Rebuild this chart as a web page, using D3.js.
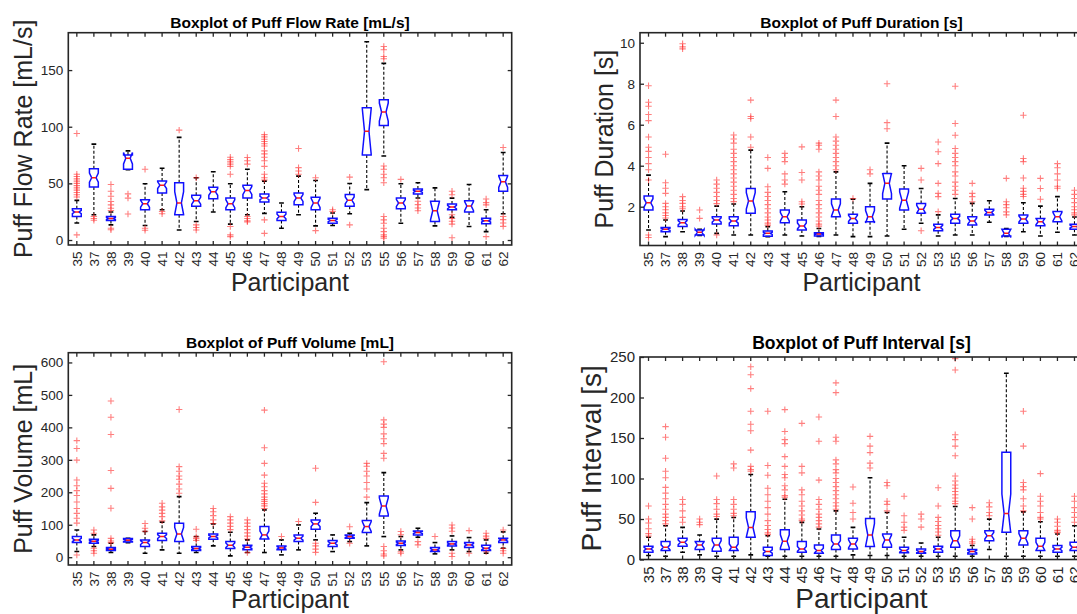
<!DOCTYPE html>
<html>
<head>
<meta charset="utf-8">
<script src="https://cdn.jsdelivr.net/npm/d3@7"></script>
<style>
  body { margin: 0; background: #fff; }
  svg { display: block; font-family: "Liberation Sans", Arial, Helvetica, sans-serif; }
</style>
</head>
<body>
<div id="chart"></div>
<script>
// participants on the x axis (same for all four panels)
const participants = ["35","37","38","39","40","41","42","43","44","45","46","47","48","49","50","51","52","53","55","56","57","58","59","60","61","62"];

// ---- Puff Flow Rate [mL/s]
const flowTicks = [0, 50, 100, 150];
const flowLo  = [15, 22.3, 13.4, 62, 12.8, 26.7, 8.9, 16.3, 24.7, 14, 22.3, 23.5, 10.4, 22.3, 12.5, 12.8, 23.2, 44.5, 74.2, 14.8, 37.1, 12.5, 20, 11.9, 7.4, 23.2];
const flowQ1  = [20.8, 46.9, 17.2, 62.4, 26.7, 41.6, 22.3, 29.7, 36.5, 26.7, 37.1, 33.6, 17.2, 31.2, 26.7, 14.8, 29.7, 75.1, 101, 27.6, 40.7, 16.3, 26.7, 24.7, 14.3, 43.1];
const flowMed = [24.7, 55, 19, 72.2, 32, 48.4, 32.7, 34.7, 42.5, 32, 43.7, 37.1, 20.8, 37.1, 32.7, 17.2, 35, 95.9, 112.9, 32.7, 43, 25.8, 29.1, 30, 16.9, 51.4];
const flowQ3  = [27.6, 63, 20.8, 75.1, 35.6, 52, 50.5, 39.5, 46.6, 37.1, 48.4, 40.7, 24.4, 41.6, 37.7, 19.3, 40.1, 116.7, 123.8, 37.1, 45.1, 34.2, 31.8, 34.7, 19.3, 57];
const flowHi  = [35, 84.6, 24.7, 78.7, 49.6, 63.3, 90.6, 55, 60.3, 49.6, 62.4, 52, 32.7, 56.4, 52.6, 23.8, 49.9, 175, 155.9, 49.6, 50.5, 46, 37, 49, 26.7, 77.2];
const flowNotch = [1.5, 4, 0.8, 5, 3, 3, 10, 3, 3, 3.5, 3.5, 1.5, 2, 3, 4, 1, 3, 20, 8, 3, 1, 8, 1.5, 4, 1, 5];
const flowOut = [
  [94, 58, 56, 54, 52, 50, 48, 46, 44, 42, 40, 38, 4.5],
  [20.8, 19, 17.5],
  [49, 43, 38.6, 34, 31, 28, 26, 10.4, 9],
  [40.7, 37, 23],
  [62.4, 10.4, 8.6],
  [25.2, 23.2],
  [97],
  [55, 13.4, 11, 8.9],
  [],
  [73, 71, 69, 67, 65, 58, 11.9, 4.5, 3],
  [72.8, 70, 67, 20.8, 19, 17, 16],
  [93, 91, 89, 87, 85, 83, 78.7, 76, 73, 70, 65, 58, 55, 53, 17.8, 5.9],
  [],
  [80.8, 63.9, 60.9, 58],
  [55, 8.3],
  [26.7, 25.2],
  [55.5, 13.4],
  [],
  [170.8, 168, 162, 160, 65.3, 62.4, 58, 55, 50.5, 20.8, 17.8, 14.8, 10.4, 7.4, 4.5, 3, 1.5],
  [53.5],
  [34.2, 31.2, 28.2, 25.8],
  [],
  [43, 40, 22.3, 19, 16.5, 14, 2],
  [],
  [36.2, 33, 31, 3],
  [81.7, 20.8, 18, 15, 12]
];

// ---- Puff Duration [s]
const durTicks = [2, 4, 6, 8, 10];
const durLo  = [0.86, 0.54, 0.78, 0.6, 0.7, 0.62, 0.62, 0.54, 0.62, 0.57, 0.55, 0.62, 0.54, 0.54, 0.57, 0.9, 1.19, 0.57, 0.62, 0.62, 1.24, 0.55, 0.78, 0.57, 0.75, 0.62];
const durQ1  = [1.84, 0.78, 1.03, 0.62, 1.16, 1.07, 1.68, 0.56, 1.22, 0.86, 0.57, 1.51, 1.19, 1.27, 2.37, 1.84, 1.68, 0.83, 1.19, 1.11, 1.59, 0.57, 1.19, 1.07, 1.27, 0.9];
const durMed = [2.19, 0.9, 1.22, 0.75, 1.35, 1.3, 2.28, 0.7, 1.51, 1.06, 0.67, 1.84, 1.43, 1.51, 3.14, 2.32, 1.87, 0.99, 1.43, 1.3, 1.72, 0.7, 1.4, 1.27, 1.51, 1.03];
const durQ3  = [2.52, 0.98, 1.38, 0.86, 1.51, 1.51, 2.89, 0.82, 1.84, 1.35, 0.73, 2.37, 1.63, 2.0, 3.62, 2.86, 2.16, 1.14, 1.63, 1.51, 1.87, 0.9, 1.59, 1.43, 1.76, 1.14];
const durHi  = [3.54, 1.35, 1.79, 0.9, 2.03, 2.13, 4.76, 1.03, 2.73, 2.0, 0.94, 3.7, 2.37, 3.14, 5.1, 4.0, 2.89, 1.6, 2.4, 2.16, 2.29, 0.94, 2.19, 2.03, 2.49, 1.5];
const durNotch = [0.2, 0.05, 0.1, 0.15, 0.1, 0.1, 0.4, 0.05, 0.2, 0.15, 0.03, 0.3, 0.15, 0.3, 0.5, 0.4, 0.2, 0.1, 0.1, 0.15, 0.1, 0.2, 0.15, 0.15, 0.2, 0.07];
const durOut = [
  [7.9, 7.1, 6.9, 6.5, 6.2, 5.4, 4.9, 4.7, 4.4, 4.1, 3.8, 3.3, 0.62, 0.5],
  [4.56, 3.17, 2.9, 2.65, 2.16, 2.0, 1.85, 1.7, 1.57, 1.45],
  [9.95, 9.8, 9.7, 2.49, 2.3, 2.16, 2.0, 1.9],
  [1.84, 1.43],
  [3.3, 3.1, 2.9, 2.7, 2.5, 2.3, 2.15, 0.62],
  [5.5, 5.3, 5.1, 4.8, 4.6, 4.4, 4.2, 4.0, 3.8, 3.6, 3.4, 3.2, 3.0, 2.8, 2.6, 2.4, 2.25],
  [7.2, 6.4, 6.3, 5.4, 4.9],
  [4.4, 3.87, 2.97, 2.7, 2.5, 2.3, 2.1, 1.9, 1.7, 1.5, 1.35, 1.2, 1.1],
  [4.6, 4.4, 4.2, 3.6, 3.3, 3.1],
  [4.92, 3.67, 3.3, 2.24, 2.13],
  [5.1, 5.0, 4.8, 3.7, 3.5, 3.3, 3.0, 2.8, 2.6, 2.3, 2.1, 1.9, 1.7, 1.5, 1.3, 1.15, 1.05],
  [7.2, 6.4, 5.4, 5.2, 5.0, 4.8, 4.6, 4.4, 4.2, 4.0, 3.8],
  [2.4],
  [3.8, 3.6],
  [8.0, 6.1, 5.8],
  [],
  [3.87, 3.3, 0.83],
  [5.16, 4.68, 4.1, 3.14, 2.65, 2.49, 1.76],
  [7.88, 6.06, 5.49, 4.84, 4.6, 4.4, 4.2, 4.0, 3.7, 3.5, 3.2, 3.0, 2.8, 2.6],
  [3.14, 2.65, 2.49, 2.24],
  [],
  [3.38, 2.24, 2.1, 1.95, 1.75, 1.6],
  [6.46, 4.35, 4.2, 3.4, 2.9, 2.75, 2.6, 2.5],
  [3.38, 2.89, 2.36],
  [4.1, 3.9, 3.6, 3.3, 3.0, 2.9],
  [2.8, 2.6, 2.4, 2.2, 2.0, 1.85, 1.7, 1.6]
];

// ---- Puff Volume [mL]
const volTicks = [0, 100, 200, 300, 400, 500, 600];
const volLo  = [17.4, 32.8, 14.4, 45, 12.3, 22.6, 12.3, 14.4, 34.9, 4.1, 14.4, 14.4, 7.2, 22.6, 53.3, 17.4, 48.2, 34.9, 63.6, 22.6, 61.5, 10.3, 22.6, 17.4, 12.3, 27.7];
const volQ1  = [45.1, 43, 20.5, 47.2, 32.8, 51.3, 48.2, 20.5, 55.4, 26.7, 22.6, 56.4, 22.6, 48.2, 86.2, 32.8, 58.5, 75.9, 127.2, 35.9, 68.7, 17.4, 34.9, 29.7, 20.5, 45.1];
const volMed = [53.3, 49.2, 24.6, 52.3, 45.1, 63.6, 71.8, 26.7, 63.6, 36.9, 30.8, 68.7, 28.7, 58.5, 102.6, 43, 63.6, 94.4, 157.9, 43, 75.9, 22.6, 41, 37.9, 27.7, 53.3];
const volQ3  = [63.6, 55.4, 29.7, 57.4, 53.3, 73.8, 104.6, 32.8, 71.8, 48.2, 36.9, 94.4, 34.9, 68.7, 114.9, 51.3, 68.7, 112.8, 188.7, 50.3, 81, 29.7, 48.2, 45.1, 36.9, 58.5];
const volHi  = [84, 68.7, 43, 58, 79, 108, 186.7, 63.6, 102.6, 77, 53.3, 145.6, 53.3, 99.5, 135.4, 68.7, 73.8, 168.2, 260.5, 63.6, 89.2, 45.1, 65.6, 60.5, 53.3, 78];
const volNotch = [5, 3, 2, 3, 6, 6, 20, 3, 4, 7, 4, 12, 4, 6, 8, 5, 3, 15, 25, 4, 3, 4, 3, 4, 5, 4];
const volOut = [
  [359, 335, 299, 238, 220, 205, 190, 170, 150, 135, 120, 105, 7],
  [84, 74, 27.7, 20, 12],
  [481, 431, 378, 267, 212, 151, 58, 50, 45],
  [],
  [104, 89, 80],
  [166, 155, 145, 135, 125, 112],
  [455, 279, 265, 250, 240, 225, 210, 197],
  [86, 63, 58, 52],
  [150, 140, 128, 115, 104],
  [125, 115, 105, 95, 85],
  [115, 105, 95, 85, 75, 65, 56, 14],
  [453, 337, 289, 253, 228, 217, 205, 195, 185, 178, 172, 165, 158, 150],
  [63.6],
  [110],
  [274, 169, 43, 35, 25, 15],
  [],
  [94, 43],
  [289, 280, 265, 250, 230, 210, 185],
  [602, 423, 410, 400, 380, 365, 350, 320, 305, 32.8, 20, 10, 4],
  [79, 69, 17, 12],
  [48, 38],
  [63.6],
  [99, 90, 80, 12, 2],
  [82, 12],
  [74, 65, 58, 17],
  [84, 27, 20, 12]
];

// ---- Puff Interval [s]
const intTicks = [0, 50, 100, 150, 200, 250];
const intLo  = [4.9, 4.1, 9.0, 5.7, 4.1, 4.1, 5.7, 4.1, 4.1, 4.1, 4.1, 4.1, 5.7, 4.9, 4.9, 4.1, 4.1, 4.1, 4.1, 4.1, 12.3, 4.1, 4.1, 4.1, 4.1, 4.1];
const intQ1  = [9.0, 11.0, 16.3, 12.3, 10.2, 11.0, 27.4, 4.9, 12.3, 9.0, 7.8, 12.3, 13.1, 15.9, 15.1, 8.2, 7.8, 9.0, 15.1, 6.9, 23.3, 33.5, 18, 11.0, 9.0, 11.0];
const intMed = [13.1, 15.1, 21.2, 18, 18, 15.1, 39.6, 9.8, 22.5, 13.1, 11.0, 19.2, 19.2, 30.2, 24.1, 11.0, 9.8, 13.1, 23.3, 9.8, 29.4, 56.8, 26.1, 16.3, 13.1, 15.1];
const intQ3  = [16.3, 22.1, 26.1, 22.1, 26.1, 27.4, 58.8, 15.1, 36.8, 22.1, 18, 30.2, 26.1, 50.6, 31.5, 15.1, 13.1, 16.3, 35.5, 12.3, 35.5, 132.4, 35.5, 26.1, 17.2, 21.2];
const intHi  = [27.4, 41.7, 39.6, 30.2, 49.8, 51.9, 105, 29.4, 74.4, 45.8, 37.6, 60, 39.6, 101, 58, 27.4, 20.4, 27.4, 65.4, 17.2, 49.8, 230, 58.8, 46.6, 31.5, 41.7];
const intNotch = [2, 3, 3, 4, 5, 4, 12, 2, 8, 3, 3, 4, 5, 14, 6, 2, 1.5, 2, 6, 1.5, 4, 24, 6, 5, 2, 3];
const intOut = [
  [66, 50, 45, 38, 32, 29],
  [164, 151, 125, 109, 101, 89, 82, 75, 68, 62, 56, 52, 48, 44],
  [74, 68, 60, 52, 46],
  [50, 46, 43],
  [103, 74, 69, 62, 56, 53],
  [118, 113, 74, 68, 62, 57, 54],
  [238, 228, 211, 183, 167, 159, 135, 115, 111, 109],
  [183, 116, 104, 88, 80, 72, 64, 56, 48, 42, 37, 33, 31],
  [185, 158, 148, 143, 127, 115, 105, 101, 91, 86, 79, 77],
  [168, 115, 107, 86, 80, 72, 66, 60, 55, 50, 48],
  [176, 146, 98, 74, 68, 62, 56, 52, 48, 44, 40],
  [218, 206, 151, 146, 123, 118, 111, 107, 100, 95, 90, 85, 80, 75, 70, 66, 62],
  [89.5, 69.5, 58, 50],
  [152, 140, 132, 119, 113],
  [95, 91, 72, 68, 60],
  [78, 54, 46, 40, 36],
  [56, 50, 40],
  [88.6, 66, 52, 47, 42, 38, 34, 30],
  [248, 234, 154, 148, 140, 128, 103, 97, 92, 88, 84, 80, 76, 72, 69],
  [64, 50, 25, 22, 20],
  [70, 65, 58, 54],
  [],
  [183, 140, 95, 90, 86, 75, 66, 60],
  [106, 78, 72, 66, 58, 52, 50],
  [50, 46, 41, 36, 34, 33],
  [78, 72, 64, 58, 52, 46]
];

const panels = [
  { title: "Boxplot of Puff Flow Rate [mL/s]", ylabel: "Puff Flow Rate [mL/s]",
    lo: flowLo, q1: flowQ1, med: flowMed, q3: flowQ3, hi: flowHi, notch: flowNotch, out: flowOut,
    ticks: flowTicks, yDomain: [-4.4, 183],
    x0: 68.3, x1: 511.7, y0: 32.7, y1: 245, titleY: 28, ylabelX: 32, xlabelY: 291,
    titleSize: 15.5, labelSize: 25, tickSize: 13.5 },
  { title: "Boxplot of Puff Duration [s]", ylabel: "Puff Duration [s]",
    lo: durLo, q1: durQ1, med: durMed, q3: durQ3, hi: durHi, notch: durNotch, out: durOut,
    ticks: durTicks, yDomain: [0.107, 10.49],
    x0: 640, x1: 1083, y0: 32.7, y1: 245.5, titleY: 28, ylabelX: 613, xlabelY: 291,
    titleSize: 15.5, labelSize: 25, tickSize: 13.5 },
  { title: "Boxplot of Puff Volume [mL]", ylabel: "Puff Volume [mL]",
    lo: volLo, q1: volQ1, med: volMed, q3: volQ3, hi: volHi, notch: volNotch, out: volOut,
    ticks: volTicks, yDomain: [-24, 630],
    x0: 68.3, x1: 511.7, y0: 352.7, y1: 565, titleY: 348, ylabelX: 32, xlabelY: 608,
    titleSize: 15.5, labelSize: 25, tickSize: 13.5 },
  { title: "Boxplot of Puff Interval [s]", ylabel: "Puff Interval [s]",
    lo: intLo, q1: intQ1, med: intMed, q3: intQ3, hi: intHi, notch: intNotch, out: intOut,
    ticks: intTicks, yDomain: [0, 250],
    x0: 640, x1: 1083, y0: 357, y1: 559.5, titleY: 349, ylabelX: 601, xlabelY: 607.5,
    titleSize: 17.5, labelSize: 28, tickSize: 15 }
];

const width = 1077, height = 614;
const axisColor = "#262626";

const svg = d3.select("#chart").append("svg")
  .attr("width", width)
  .attr("height", height);

svg.append("rect").attr("width", width).attr("height", height).attr("fill", "#fff");

panels.forEach((p, pi) => drawPanel(p, pi));

function drawPanel(p, pi) {
  const x = d3.scaleBand().domain(participants).range([p.x0, p.x1]);
  const y = d3.scaleLinear().domain(p.yDomain).range([p.y1, p.y0]);
  const g = svg.append("g");

  const clipId = "clip" + pi;
  svg.append("clipPath").attr("id", clipId)
    .append("rect")
    .attr("x", p.x0).attr("y", p.y0)
    .attr("width", p.x1 - p.x0).attr("height", p.y1 - p.y0);

  const rows = participants.map((id, i) => ({
    id, lo: p.lo[i], q1: p.q1[i], med: p.med[i], q3: p.q3[i], hi: p.hi[i],
    notch: p.notch[i], out: p.out[i]
  }));

  const bw = x.bandwidth() * 0.52;
  const cap = x.bandwidth() * 0.14;
  const cx = d => x(d.id) + x.bandwidth() / 2;

  const plot = g.append("g").attr("clip-path", `url(#${clipId})`);

  // whiskers
  plot.selectAll(".wh-up").data(rows).enter().append("line")
    .attr("x1", cx).attr("x2", cx)
    .attr("y1", d => y(d.q3)).attr("y2", d => y(d.hi))
    .attr("stroke", "#000").attr("stroke-width", 1.1).attr("stroke-dasharray", "3,2");
  plot.selectAll(".wh-dn").data(rows).enter().append("line")
    .attr("x1", cx).attr("x2", cx)
    .attr("y1", d => y(d.q1)).attr("y2", d => y(d.lo))
    .attr("stroke", "#000").attr("stroke-width", 1.1).attr("stroke-dasharray", "3,2");

  // whisker caps
  ["hi", "lo"].forEach(k => {
    plot.selectAll(".cap-" + k).data(rows).enter().append("line")
      .attr("x1", d => cx(d) - cap).attr("x2", d => cx(d) + cap)
      .attr("y1", d => y(d[k])).attr("y2", d => y(d[k]))
      .attr("stroke", "#000").attr("stroke-width", 1.6);
  });

  // notched boxes
  plot.selectAll(".box").data(rows).enter().append("path")
    .attr("d", d => {
      const L = cx(d) - bw / 2, R = cx(d) + bw / 2, n = bw / 4;
      const pts = [
        [L, y(d.q1)], [L, y(d.med - d.notch)], [L + n, y(d.med)], [L, y(d.med + d.notch)], [L, y(d.q3)],
        [R, y(d.q3)], [R, y(d.med + d.notch)], [R - n, y(d.med)], [R, y(d.med - d.notch)], [R, y(d.q1)]
      ];
      return d3.line()(pts) + "Z";
    })
    .attr("fill", "none")
    .attr("stroke", "#1010ff")
    .attr("stroke-width", 1.5);

  // medians
  plot.selectAll(".med").data(rows).enter().append("line")
    .attr("x1", d => cx(d) - bw / 4).attr("x2", d => cx(d) + bw / 4)
    .attr("y1", d => y(d.med)).attr("y2", d => y(d.med))
    .attr("stroke", "#ff1a1a").attr("stroke-width", 1.5);

  // outliers
  const outPts = [];
  rows.forEach(d => d.out.forEach(v => outPts.push({ id: d.id, v })));
  plot.selectAll(".out").data(outPts).enter().append("path")
    .attr("transform", d => `translate(${cx(d)},${y(d.v)})`)
    .attr("d", "M-3.2,0H3.2M0,-3.2V3.2")
    .attr("stroke", "#ff2a2a")
    .attr("stroke-opacity", 0.6)
    .attr("stroke-width", 1.1);

  // axes (ticks inward on all four sides)
  const left = g.append("g").attr("transform", `translate(${p.x0},0)`)
    .call(d3.axisLeft(y).tickValues(p.ticks).tickSize(-4).tickPadding(5).tickSizeOuter(0));
  g.append("g").attr("transform", `translate(${p.x1},0)`)
    .call(d3.axisRight(y).tickValues(p.ticks).tickSize(-4).tickFormat("").tickSizeOuter(0));
  const bottom = g.append("g").attr("transform", `translate(0,${p.y1})`)
    .call(d3.axisBottom(x).tickSize(-4).tickSizeOuter(0));
  g.append("g").attr("transform", `translate(0,${p.y0})`)
    .call(d3.axisTop(x).tickSize(-4).tickFormat("").tickSizeOuter(0));

  g.selectAll(".domain").remove();
  g.selectAll(".tick line").attr("stroke", axisColor).attr("stroke-width", 1.3);

  left.selectAll("text")
    .attr("fill", axisColor)
    .style("font-size", p.tickSize + "px")
    .style("font-family", "'Liberation Sans', Arial, sans-serif");

  bottom.selectAll("text")
    .attr("fill", axisColor)
    .attr("transform", "rotate(-90)")
    .attr("x", pi === 3 ? -7 : -6.5)
    .attr("y", 0)
    .attr("dy", "0.35em")
    .style("text-anchor", "end")
    .style("font-size", p.tickSize + "px")
    .style("font-family", "'Liberation Sans', Arial, sans-serif");

  // frame
  g.append("rect")
    .attr("x", p.x0).attr("y", p.y0)
    .attr("width", p.x1 - p.x0).attr("height", p.y1 - p.y0)
    .attr("fill", "none").attr("stroke", axisColor).attr("stroke-width", 1.6);

  const midX = (p.x0 + p.x1) / 2;
  const midY = (p.y0 + p.y1) / 2;

  g.append("text")
    .attr("x", midX).attr("y", p.titleY)
    .attr("text-anchor", "middle")
    .style("font-weight", "bold")
    .style("font-size", p.titleSize + "px")
    .attr("fill", "#000")
    .text(p.title);

  g.append("text")
    .attr("x", midX).attr("y", p.xlabelY)
    .attr("text-anchor", "middle")
    .style("font-size", p.labelSize + "px")
    .attr("fill", axisColor)
    .text("Participant");

  g.append("text")
    .attr("transform", `translate(${p.ylabelX},${midY}) rotate(-90)`)
    .attr("text-anchor", "middle")
    .style("font-size", p.labelSize + "px")
    .attr("fill", axisColor)
    .text(p.ylabel);
}
</script>
</body>
</html>
